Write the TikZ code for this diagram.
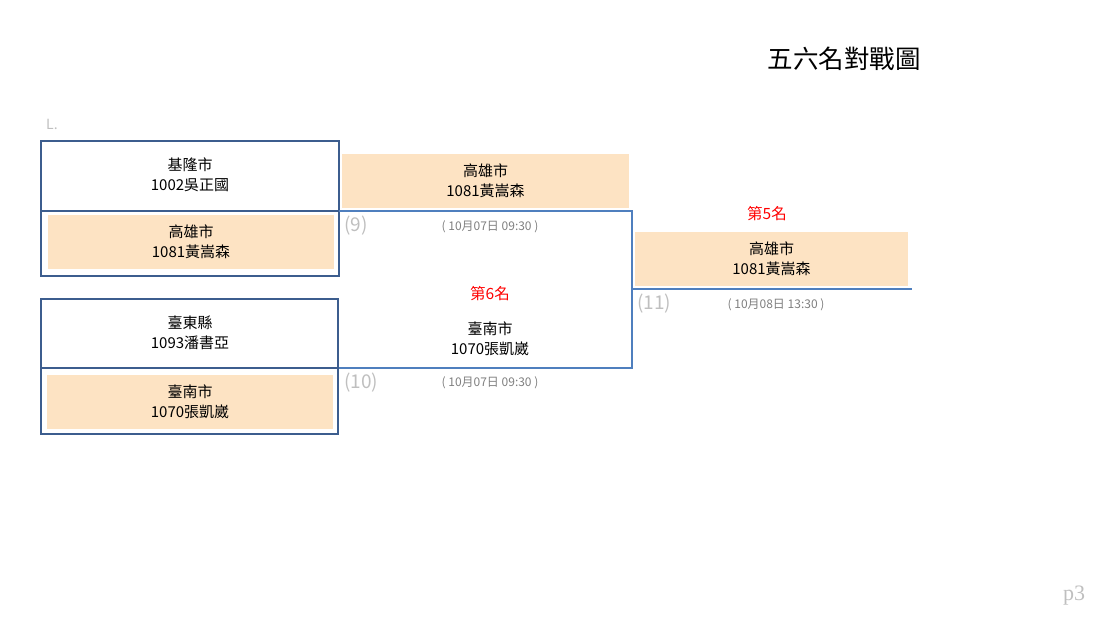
\documentclass[tikz,border=0pt]{standalone}
\usepackage{fontspec}
\setmainfont{Noto Sans CJK TC}
\newfontfamily\serifp{Liberation Serif}
\definecolor{slotfill}{HTML}{FDE3C3}
\definecolor{boxblue}{HTML}{3C5D8E}
\definecolor{brblue}{HTML}{4F7FBE}
\definecolor{lightgray}{HTML}{BFBFBF}
\definecolor{dategray}{HTML}{7F7F7F}
\tikzset{
  slot/.style={align=center, inner sep=0pt, font=\fontsize{15}{20}\selectfont, text=black},
  filled/.style={slot, fill=slotfill, minimum width=286pt, minimum height=54pt},
  outerbox/.style={draw=boxblue, line width=1.6pt},
  bracket/.style={draw=brblue, line width=1.6pt},
  matchno/.style={text=lightgray, font=\fontsize{19}{22}\selectfont, anchor=west, inner sep=0pt},
  datelbl/.style={text=dategray, font=\fontsize{12}{14}\selectfont, inner sep=0pt},
  rank/.style={text=red, font=\fontsize{15.5}{18}\selectfont, inner sep=0pt}
}
\begin{document}
\begin{tikzpicture}[x=1pt,y=-1pt]
\useasboundingbox (0,0) rectangle (1103,618);
% title
\node[font=\fontsize{25.5}{30}\selectfont, inner sep=0pt] (title) at (844,59) {五六名對戰圖};
\node[text=lightgray, font=\fontsize{14}{16}\selectfont, inner sep=0pt, anchor=west] (L) at (46,124) {L.};
\node[text=lightgray, font=\serifp\fontsize{22}{24}\selectfont, inner sep=0pt] (page) at (1074,596) {p3};
% first-round boxes
\node[filled] (p1b) at (191,242) {高雄市\\1081黃嵩森};
\node[slot] (p1a) at (190,175) {基隆市\\1002吳正國};
\draw[outerbox] (41,141) rectangle (339,276);
\draw[outerbox] (41,211) -- (339,211);
\node[filled] (p2b) at (190,401.5) {臺南市\\1070張凱崴};
\node[slot] (p2a) at (190,333) {臺東縣\\1093潘書亞};
\draw[outerbox] (41,299) rectangle (338,434);
\draw[outerbox] (41,368) -- (338,368);
% match 9/10 winners
\node[filled, minimum width=287pt, minimum height=54pt] (w9) at (485.5,181) {高雄市\\1081黃嵩森};
\node[slot] (l9) at (490,338.5) {臺南市\\1070張凱崴};
\node[rank] (r6) at (490,294) {第6名};
\coordinate (m9) at (339,211);
\coordinate (m10) at (339,368);
\coordinate (j11) at (632,289);
\coordinate (e11) at (912,289);
\draw[bracket] (m9) -- (632,211) -- (632,368) -- (m10);
\draw[bracket] (j11) -- (e11);
\node[matchno] (n9) at (344,226) {(9)};
\node[datelbl] (d9) at (490,226.5) {( 10月07日 09:30 )};
\node[matchno] (n10) at (344,383) {(10)};
\node[datelbl] (d10) at (490,383) {( 10月07日 09:30 )};
% final
\node[rank] (r5) at (767,214) {第5名};
\node[filled, minimum width=273pt, minimum height=54pt] (w11) at (771.5,259) {高雄市\\1081黃嵩森};
\node[matchno] (n11) at (637,304) {(11)};
\node[datelbl] (d11) at (776,304.5) {( 10月08日 13:30 )};
\end{tikzpicture}
\end{document}
